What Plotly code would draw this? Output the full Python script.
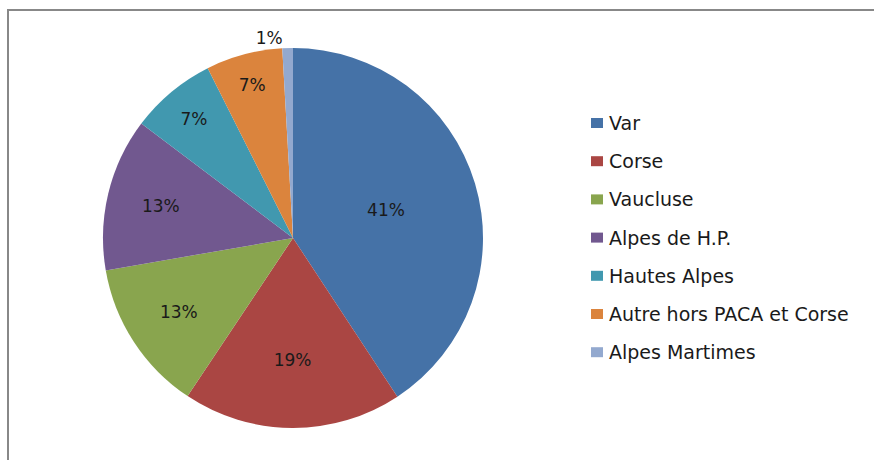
import plotly.graph_objects as go

labels = ["Var", "Corse", "Vaucluse", "Alpes de H.P.", "Hautes Alpes",
          "Autre hors PACA et Corse", "Alpes Martimes"]
values = [40.7, 18.6, 12.9, 13.0, 7.3, 6.5, 0.9]
colors = ["#4572A7", "#AA4643", "#89A54E", "#71588F", "#4198AF", "#DB843D", "#93A9CF"]

W, H = 874, 460
cx, cy, r = 293, 238, 190
FONT = "DejaVu Sans"

fig = go.Figure()
fig.add_trace(go.Pie(
    labels=labels,
    values=values,
    sort=False,
    direction="clockwise",
    rotation=0,
    marker=dict(colors=colors, line=dict(width=0)),
    texttemplate="%{percent:.0%}",
    textposition=["inside"] * 6 + ["outside"],
    insidetextorientation="horizontal",
    textfont=dict(family=FONT, size=17, color="#1a1a1a"),
    domain=dict(x=[(cx - r) / W, (cx + r) / W], y=[1 - (cy + r) / H, 1 - (cy - r) / H]),
    showlegend=False,
))

# legend drawn as squares + text, like the original Excel chart
shapes = [dict(type="rect", xref="paper", yref="paper",
               x0=8 / W, x1=1.05, y0=-0.05, y1=1 - 10 / H,
               line=dict(color="#888888", width=2))]
annotations = []
y0_px, step = 123, 38.2
for i, (lab, col) in enumerate(zip(labels, colors)):
    yc = y0_px + i * step
    shapes.append(dict(type="rect", xref="paper", yref="paper",
                       x0=591 / W, x1=603 / W, y0=1 - (yc + 5) / H, y1=1 - (yc - 5) / H,
                       fillcolor=col, line=dict(width=0)))
    annotations.append(dict(text=lab, xref="paper", yref="paper",
                            x=607 / W, y=1 - yc / H, xanchor="left", yanchor="middle",
                            showarrow=False, font=dict(family=FONT, size=19, color="#1a1a1a")))

fig.update_layout(
    width=W, height=H,
    margin=dict(l=0, r=0, t=0, b=0),
    paper_bgcolor="white",
    font=dict(family=FONT, size=17, color="#1a1a1a"),
    shapes=shapes,
    annotations=annotations,
)

fig.write_html("out.html", config={"displayModeBar": False},
               post_script="document.body.style.margin='0';")
